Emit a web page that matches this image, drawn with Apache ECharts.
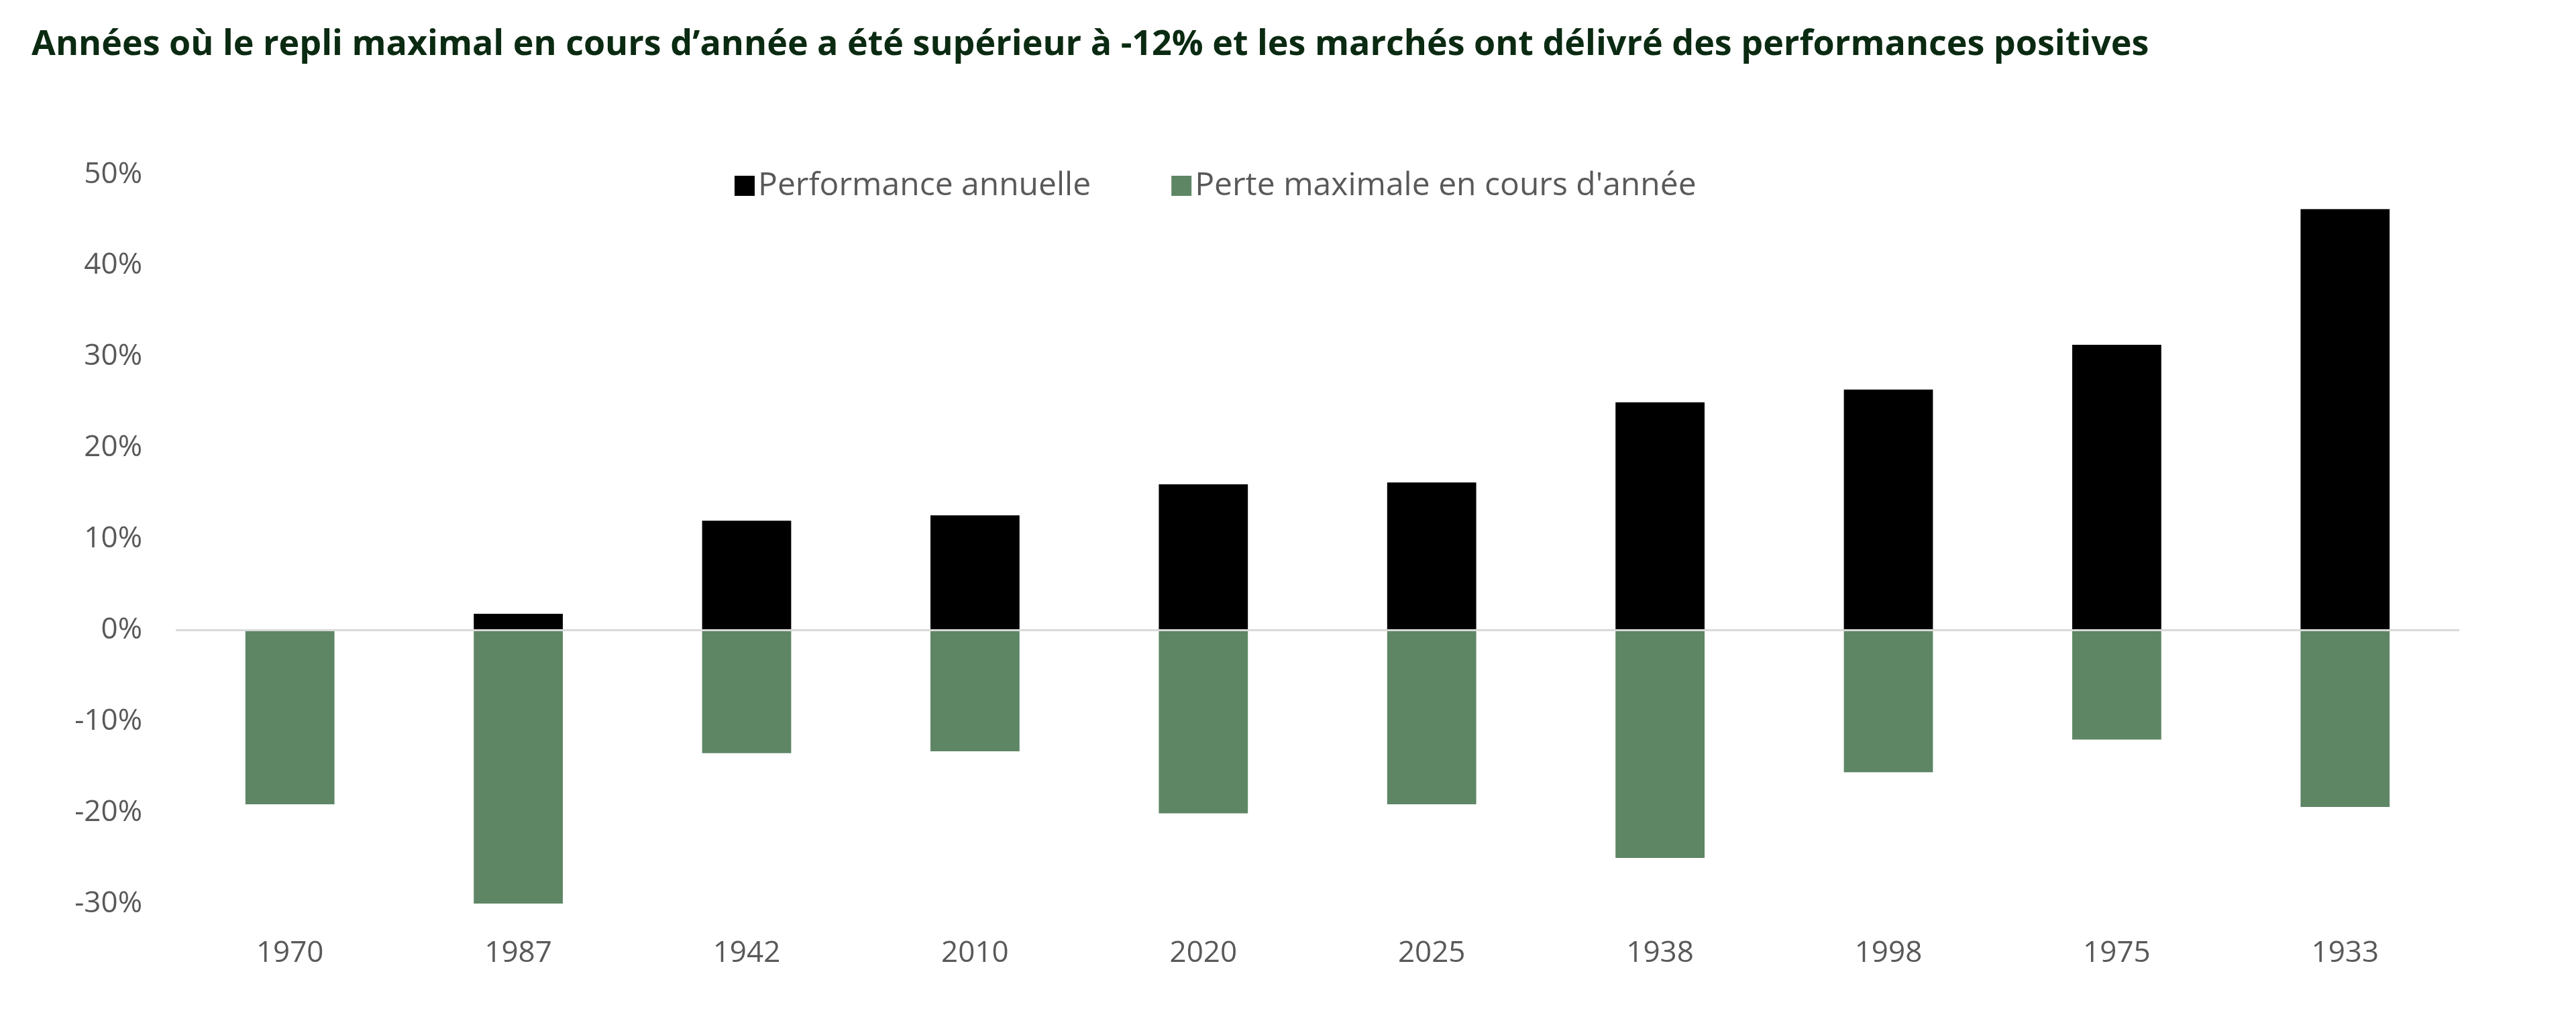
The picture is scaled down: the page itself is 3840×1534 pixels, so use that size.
<!DOCTYPE html>
<html>
<head>
<meta charset="utf-8">
<script src="https://cdn.jsdelivr.net/npm/echarts@6/dist/echarts.min.js"></script>
<style>
  html, body { margin: 0; padding: 0; background: #fff; }
  #chart { width: 3840px; height: 1534px; }
</style>
</head>
<body>
<div id="chart"></div>
<script>
const years = ['1970', '1987', '1942', '2010', '2020', '2025', '1938', '1998', '1975', '1933'];
const annualPerf = [0.1, 1.8, 12.0, 12.6, 16.0, 16.2, 25.0, 26.4, 31.3, 46.2];
const maxLoss = [-19.1, -30.2, -13.5, -13.3, -20.1, -19.1, -25.0, -15.6, -12.0, -19.4];

const chart = echarts.init(document.getElementById('chart'));
const font = '"Open Sans", "Noto Sans", sans-serif';

chart.setOption({
  animation: false,
  textStyle: { fontFamily: font },
  title: {
    text: 'Années où le repli maximal en cours d’année a été supérieur à -12% et les marchés ont délivré des performances positives',
    left: 42,
    top: 36,
    textStyle: { fontFamily: font, fontSize: 52, fontWeight: 'bold', color: '#0b2a12' },
  },
  legend: {
    top: 248,
    left: 1090,
    itemWidth: 30,
    itemHeight: 30,
    itemGap: 120,
    icon: 'rect',
    textStyle: { fontFamily: font, fontSize: 48, color: '#595959' },
    data: ['Performance annuelle', "Perte maximale en cours d'année"],
  },
  grid: { left: 262, right: 174, top: 260, bottom: 187 },
  xAxis: {
    type: 'category',
    data: years,
    axisLine: { show: false },
    axisTick: { show: false },
    axisLabel: { fontSize: 44, color: '#595959', margin: 52 },
  },
  yAxis: {
    type: 'value',
    min: -30,
    max: 50,
    interval: 10,
    axisLine: { show: false },
    axisTick: { show: false },
    splitLine: { show: false },
    axisLabel: { fontSize: 44, color: '#595959', margin: 50, formatter: (v) => `${v}%` },
  },
  series: [
    {
      name: 'Performance annuelle',
      type: 'bar',
      stack: 'total',
      barWidth: '39%',
      itemStyle: { color: '#000000' },
      data: annualPerf,
      markLine: {
        silent: true,
        symbol: 'none',
        label: { show: false },
        lineStyle: { color: '#d9d9d9', width: 3, type: 'solid' },
        data: [{ yAxis: 0 }],
      },
    },
    {
      name: "Perte maximale en cours d'année",
      type: 'bar',
      stack: 'total',
      barWidth: '39%',
      itemStyle: { color: '#5e8665' },
      data: maxLoss,
    },
  ],
});
</script>
</body>
</html>
